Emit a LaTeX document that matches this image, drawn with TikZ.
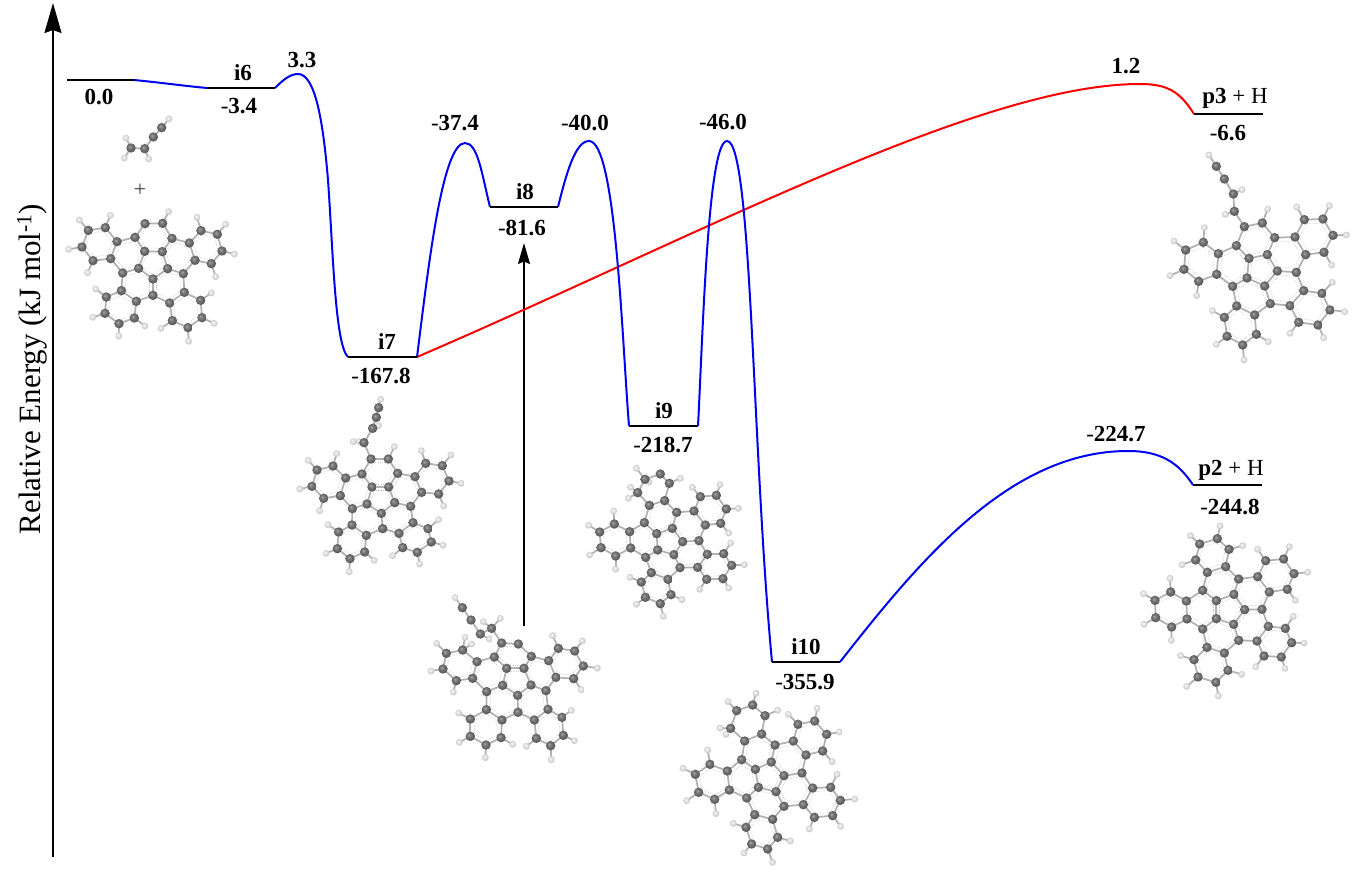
\documentclass[tikz,border=0pt]{standalone}
\usepackage{fontspec}
\setmainfont{Liberation Serif}
\usetikzlibrary{arrows.meta,calc}
\definecolor{cA}{HTML}{A8A8A8}\definecolor{cB}{HTML}{787878}\definecolor{cC}{HTML}{5A5A5A}\definecolor{cD}{HTML}{404040}
\definecolor{hA}{HTML}{F8F8F8}\definecolor{hB}{HTML}{E2E2E2}\definecolor{hC}{HTML}{C0C0C0}\definecolor{hD}{HTML}{999999}
\definecolor{curveblue}{HTML}{0000F0}\definecolor{curvered}{HTML}{FA0000}
\pgfdeclareradialshading{catom}{\pgfpoint{-8bp}{8bp}}{color(0bp)=(cA);color(10bp)=(cB);color(24bp)=(cC);color(50bp)=(cD)}
\pgfdeclareradialshading{hatom}{\pgfpoint{-8bp}{8bp}}{color(0bp)=(hA);color(12bp)=(hB);color(28bp)=(hC);color(50bp)=(hD)}
\tikzset{
  bondline/.style={draw=black!30,line width=1.75pt,line cap=round},
  ringline/.style={draw=black!24,line width=.4pt,dash pattern=on 1.1pt off 1.1pt},
  carbon/.style={shading=catom},
  hydrogen/.style={shading=hatom},
  level/.style={draw=black,line width=2pt},
  bluecurve/.style={draw=curveblue,line width=2pt},
  redcurve/.style={draw=curvered,line width=2pt},
  axisarrow/.style={draw=black,line width=2pt,-{Stealth[length=30pt,width=17pt,inset=3pt]}},
  markarrow/.style={draw=black,line width=2pt,-{Stealth[length=21pt,width=12pt,inset=2.5pt]}},
  lbl/.style={inner sep=0pt,font=\fontsize{23}{23}\selectfont\bfseries},
  plain/.style={inner sep=0pt,font=\fontsize{22}{22}\selectfont},
  axislabel/.style={inner sep=0pt,rotate=90,font=\fontsize{31}{31}\selectfont}
}
\newcommand\mn{{\mdseries -}}
% #1,#2 offset in px; #3 carbon list; #4 hydrogen list; #5 ring centres (zoomed units, 3 per px)
\newcommand\drawmol[5]{%
\begin{scope}[shift={(#1,#2)},x=.33333pt,y=-.33333pt]
  \foreach \ax/\ay in {#3}{%
    \foreach \bx/\by in {#3}{%
      \ifnum\numexpr1000*(\ax)+(\ay)\relax<\numexpr1000*(\bx)+(\by)\relax
        \ifnum\numexpr((\ax)-(\bx))*((\ax)-(\bx))+((\ay)-(\by))*((\ay)-(\by))\relax<4356\relax
          \draw[bondline] (\ax,\ay) -- (\bx,\by);
          \foreach \rx/\ry in {#5}{%
            \ifnum\numexpr((\ax)-(\rx))*((\ax)-(\rx))+((\ay)-(\ry))*((\ay)-(\ry))\relax<4900\relax
              \ifnum\numexpr((\bx)-(\rx))*((\bx)-(\rx))+((\by)-(\ry))*((\by)-(\ry))\relax<4900\relax
                \draw[ringline] ($(\rx,\ry)!.76!(\ax,\ay)$) -- ($(\rx,\ry)!.76!(\bx,\by)$);
              \fi
            \fi
          }%
        \fi
      \fi
    }%
  }%
  % every hydrogen is bonded to its nearest carbon
  \foreach \bx/\by in {#4}{%
    \xdef\mindist{100000000}%
    \foreach \ax/\ay in {#3}{%
      \ifnum\numexpr((\ax)-(\bx))*((\ax)-(\bx))+((\ay)-(\by))*((\ay)-(\by))\relax<\mindist\relax
        \xdef\mindist{\the\numexpr((\ax)-(\bx))*((\ax)-(\bx))+((\ay)-(\by))*((\ay)-(\by))\relax}%
        \xdef\minx{\ax}\xdef\miny{\ay}%
      \fi
    }%
    \draw[bondline] (\minx,\miny) -- (\bx,\by);
  }%
  \foreach \bx/\by in {#4}{\shade[hydrogen] (\bx,\by) circle[radius=3.4pt];}%
  \foreach \ax/\ay in {#3}{\shade[carbon] (\ax,\ay) circle[radius=4.7pt];}%
\end{scope}}
\begin{document}
\begin{tikzpicture}[x=1pt,y=-1pt]
\useasboundingbox (0,0) rectangle (1362,877);
\fill[white] (0,0) rectangle (1362,877);

% ---------- axis and marker arrow
\coordinate (axisfoot) at (53,857);
\coordinate (axistip) at (53,3);
\draw[axisarrow] (axisfoot) -- (axistip);
\coordinate (markfoot) at (524,626);
\coordinate (marktip) at (524,243);
\draw[markarrow] (markfoot) -- (marktip);
\node[axislabel] (ylabel) at (32,369) {Relative Energy (kJ mol\textsuperscript{-1})};

% ---------- levels
\coordinate (r0a) at (67,80);    \coordinate (r0b) at (134,80);
\coordinate (i6a) at (207,88);   \coordinate (i6b) at (275,88);
\coordinate (i7a) at (348,357);  \coordinate (i7b) at (417,357);
\coordinate (i8a) at (490,207);  \coordinate (i8b) at (558,207);
\coordinate (i9a) at (629,426);  \coordinate (i9b) at (698,426);
\coordinate (i10a) at (772,662); \coordinate (i10b) at (840,662);
\coordinate (p3a) at (1194,114); \coordinate (p3b) at (1263,114);
\coordinate (p2a) at (1193,485); \coordinate (p2b) at (1262,485);

% ---------- curves
\draw[redcurve] (i7b) .. controls (700,235) and (980,84) .. (1140,84) .. controls (1168,84) and (1180,92) .. (p3a);
\draw[bluecurve] (r0b) .. controls (160,82.5) and (185,86) .. (i6a);
\draw[bluecurve] (i6b) .. controls (283,80) and (290,74) .. (298,74) .. controls (315,74) and (323,120) .. (328,180) .. controls (333,250) and (335,345) .. (i7a);
\draw[bluecurve] (i7b) .. controls (428,270) and (442,143) .. (465,143) .. controls (478,143) and (482,175) .. (i8a);
\draw[bluecurve] (i8b) .. controls (566,175) and (575,141) .. (589,141) .. controls (616,141) and (622,340) .. (i9a);
\draw[bluecurve] (i9b) .. controls (703,330) and (708,141) .. (727,141) .. controls (752,141) and (752,450) .. (i10a);
\draw[bluecurve] (i10b) .. controls (920,560) and (1010,451) .. (1128,451) .. controls (1160,451) and (1178,462) .. (p2a);

\draw[level] (r0a) -- (r0b);
\draw[level] (i6a) -- (i6b);
\draw[level] (i7a) -- (i7b);
\draw[level] (i8a) -- (i8b);
\draw[level] (i9a) -- (i9b);
\draw[level] (i10a) -- (i10b);
\draw[level] (p3a) -- (p3b);
\draw[level] (p2a) -- (p2b);

% ---------- labels
\node[lbl] (t00) at (99,97) {0.0};
\node[lbl] (ti6) at (243,73) {i6};
\node[lbl] (e6) at (239,106) {\mn3.4};
\node[lbl] (ts1) at (302,60) {3.3};
\node[lbl] (ts2) at (455,123) {\mn37.4};
\node[lbl] (ti8) at (525,192) {i8};
\node[lbl] (e8) at (522,228) {\mn81.6};
\node[lbl] (ts3) at (585,123) {\mn40.0};
\node[lbl] (ts4) at (723,122) {\mn46.0};
\node[lbl] (ti7) at (387,342) {i7};
\node[lbl] (e7) at (381,376) {\mn167.8};
\node[lbl] (ti9) at (664,411) {i9};
\node[lbl] (e9) at (663,445) {\mn218.7};
\node[lbl] (ti10) at (806,647) {i10};
\node[lbl] (e10) at (805,682) {\mn355.9};
\node[lbl] (ts5) at (1126,66) {1.2};
\node[lbl] (tp3) at (1235,98) {p3 {\mdseries + H}};
\node[lbl] (ep3) at (1228,133) {\mn6.6};
\node[lbl] (ts6) at (1116,434) {\mn224.7};
\node[lbl] (tp2) at (1231,470) {p2 {\mdseries + H}};
\node[lbl] (ep2) at (1230,507) {\mn244.8};
\node[plain,text=black!75] (plus) at (140,190) {+};

% ---------- molecules
% reactant chain
\drawmol{40}{0}{273/444,314/446,340/411,365/383}{258/414,253/474,326/477,387/357}{9000/9000}
% reactant PAH
\drawmol{50}{120}{115/331,166/323,201/365,182/416,129/422,96/381,255/352,285/311,338/310,366/355,337/395,284/394,418/369,453/332,502/343,516/393,484/431,435/421,266/445,353/446,218/459,400/461,309/477,214/512,403/517,309/526,259/544,359/549,169/531,165/580,207/611,253/594,452/541,456/593,414/623,367/602}
{88/300,181/286,356/275,441/292,527/313,553/402,497/470,113/458,56/388,137/507,128/592,206/648,285/618,333/625,416/664,492/610,484/519}
{140/372,310/352,467/380,309/425,236/405,385/408,263/495,355/497,211/570,408/572}
% i7
\drawmol{290}{390}{222/158,248/115,259/82,266/53,243/207,295/207,323/250,296/291,246/291,216/252,167/264,129/228,81/240,66/289,101/325,151/317,375/260,407/220,457/227,477/273,446/312,395/307,231/342,314/338,187/356,362/349,274/370,186/405,369/398,278/416,229/436,327/430,146/426,142/476,180/506,224/486,414/416,424/456,382/487,338/473}
{272/28,265/107,190/155,208/155,55/211,140/191,313/170,394/182,483/195,514/280,461/348,89/362,29/297,114/404,108/490,178/545,253/511,308/497,389/522,459/466,446/389}
{270/250,108/277,426/268,272/333,198/304,345/298,231/388,324/385,183/456,379/443}
% i8
\drawmol{420}{585}{127/68,153/105,181/147,215/130,245/174,295/177,334/214,312/250,260/250,223/216,171/230,128/195,79/205,69/252,109/287,158/280,386/227,415/190,464/198,490/243,461/281,408/277,248/301,333/300,200/320,378/317,293/331,199/374,384/373,294/382,246/405,343/405,151/402,151/454,198/480,243/458,426/397,430/451,392/482,349/460}
{106/38,155/177,208/162,190/110,241/100,50/175,135/157,398/152,487/168,532/249,484/314,100/321,33/258,116/384,118/472,196/518,278/478,319/484,394/524,463/467,454/376}
{278/214,119/242,438/236,289/288,205/267,359/265,247/353,339/352,197/429,387/428}
% i9
\drawmol{575}{460}{256/42,283/70,210/58,188/98,223/136,269/122,305/157,292/205,245/221,208/188,164/215,118/192,74/216,78/263,122/288,167/264,248/270,212/292,297/284,323/245,372/242,357/153,376/110,424/106,454/147,437/190,391/195,397/283,446/281,470/316,444/356,395/358,368/322,315/323,229/338,279/358,288/404,256/431,211/412,199/366}
{184/25,222/66,167/82,160/115,316/55,116/153,41/196,44/285,122/328,352/82,435/74,490/145,461/219,467/249,508/314,461/384,374/388,165/352,321/419,265/469,184/433}
{257/171,207/240,120/240,281/245,340/199,405/150,347/283,420/320,263/314,245/385}
% i10
\drawmol{670}{695}{248/30,285/62,275/117,224/138,182/100,200/47,315/150,304/201,256/223,215/194,172/228,120/208,76/238,86/292,134/313,178/285,265/277,230/309,318/290,342/242,396/234,370/138,384/88,434/78,470/118,458/168,408/180,428/279,482/277,511/316,488/362,433/367,400/329,342/334,254/359,308/373,323/427,293/462,245/447,228/397}
{174/20,323/46,150/99,168/118,258/-5,113/165,39/220,50/317,138/356,355/58,442/40,508/111,486/200,501/238,554/312,512/394,418/402,190/385,361/438,308/502,222/474}
{265/170,216/254,130/260,297/247,358/190,427/128,370/285,457/322,286/324,278/410}
% p3
\drawmol{1155}{145}{184/64,208/102,235/147,238/199,268/245,322/234,359/278,337/329,282/340,244/302,190/326,145/292,92/315,87/373,131/409,185/388,276/399,233/424,329/423,367/378,424/382,420/276,448/224,504/222,534/271,507/322,452/329,446/437,501/445,525/495,489/540,431/532,405/482,346/476,245/483,299/510,304/568,263/600,216/574,208/517}
{162/30,261/134,211/208,338/192,148/248,57/288,45/392,125/452,425/186,523/182,574/270,530/360,532/412,569/500,506/578,405/565,172/497,340/590,267/645,184/598}
{302/288,236/362,140/351,318/374,393/329,477/274,386/430,466/489,288/458,256/542}
% p2
\drawmol{1130}{525}{262/41,297/73,287/125,232/142,197/105,209/57,326/162,312/208,259/227,218/196,169/228,122/201,75/226,77/278,125/306,171/282,259/281,218/312,311/298,344/254,396/253,383/155,407/107,461/102,492/146,472/193,418/201,415/304,466/310,485/353,454/396,402/393,381/348,326/346,231/367,283/384,294/436,258/472,204/456,192/404}
{181/32,270/3,338/62,156/119,120/160,40/206,42/298,124/346,383/73,478/65,533/142,496/226,490/274,522/354,465/430,377/425,152/392,335/448,265/513,170/484}
{272/178,247/91,215/254,123/254,298/255,365/205,436/150,362/300,434/350,272/333,244/420}
\end{tikzpicture}
\end{document}
